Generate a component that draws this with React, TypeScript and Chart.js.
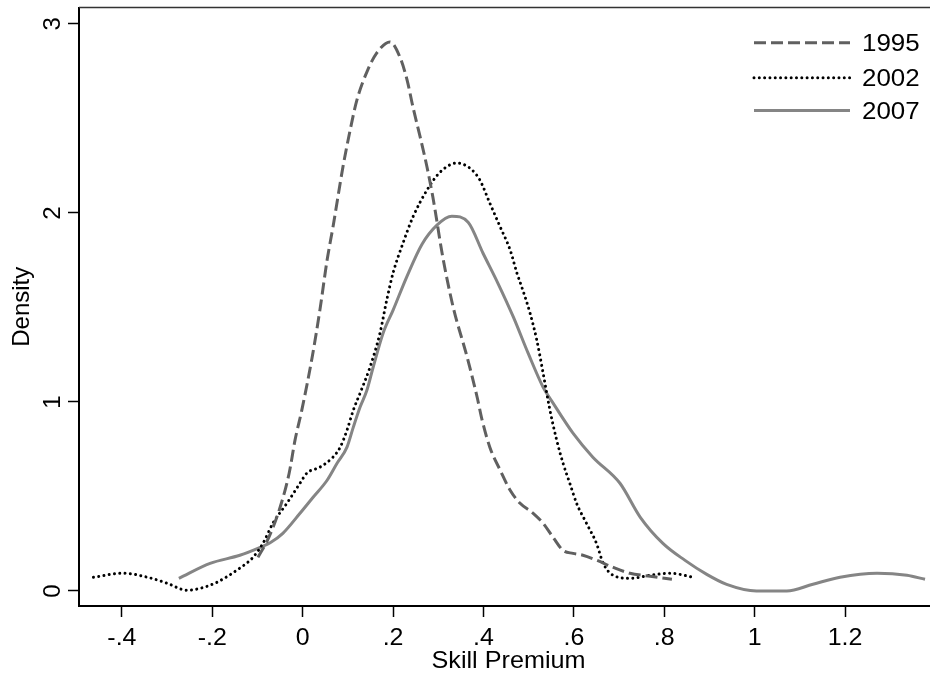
import React, { useEffect, useRef } from "react";
import { Chart, registerables } from "chart.js";

Chart.register(...registerables);

// ---- data ----
const x1995 = [-0.099, -0.075, -0.05, -0.03, -0.017, -0.002, 0.021, 0.038, 0.054, 0.067, 0.089, 0.105, 0.12, 0.144, 0.164, 0.193, 0.215, 0.231, 0.244, 0.26, 0.275, 0.288, 0.31, 0.333, 0.364, 0.386, 0.397, 0.414, 0.437, 0.459, 0.481, 0.51, 0.532, 0.554, 0.576, 0.598, 0.62, 0.651, 0.687, 0.724, 0.769, 0.817];
const y1995 = [0.178, 0.284, 0.443, 0.623, 0.798, 0.957, 1.238, 1.486, 1.751, 1.926, 2.243, 2.439, 2.598, 2.757, 2.847, 2.905, 2.825, 2.703, 2.56, 2.401, 2.243, 2.084, 1.766, 1.501, 1.236, 1.025, 0.904, 0.761, 0.639, 0.533, 0.464, 0.411, 0.358, 0.284, 0.215, 0.199, 0.189, 0.162, 0.125, 0.094, 0.078, 0.062];

const x2002 = [-0.463, -0.397, -0.344, -0.3, -0.256, -0.227, -0.19, -0.146, -0.11, -0.088, -0.066, -0.035, -0.006, 0.009, 0.038, 0.067, 0.083, 0.098, 0.112, 0.127, 0.149, 0.171, 0.186, 0.2, 0.222, 0.244, 0.275, 0.304, 0.341, 0.37, 0.392, 0.414, 0.437, 0.459, 0.474, 0.487, 0.503, 0.518, 0.532, 0.547, 0.562, 0.576, 0.591, 0.606, 0.628, 0.65, 0.665, 0.687, 0.724, 0.769, 0.813, 0.864];
const y2002 = [0.073, 0.094, 0.073, 0.041, 0.004, 0.014, 0.046, 0.11, 0.178, 0.252, 0.358, 0.464, 0.57, 0.623, 0.655, 0.708, 0.761, 0.851, 0.957, 1.047, 1.185, 1.365, 1.54, 1.683, 1.841, 1.979, 2.121, 2.216, 2.264, 2.237, 2.174, 2.052, 1.926, 1.804, 1.682, 1.592, 1.47, 1.327, 1.152, 0.957, 0.798, 0.676, 0.57, 0.464, 0.358, 0.252, 0.146, 0.083, 0.067, 0.083, 0.094, 0.073];

const x2007 = [-0.274, -0.205, -0.139, -0.094, -0.072, -0.044, -0.006, 0.023, 0.054, 0.076, 0.098, 0.112, 0.127, 0.142, 0.156, 0.178, 0.2, 0.23, 0.264, 0.297, 0.33, 0.366, 0.399, 0.432, 0.466, 0.499, 0.532, 0.554, 0.598, 0.642, 0.702, 0.747, 0.797, 0.846, 0.894, 0.938, 1.004, 1.071, 1.129, 1.189, 1.271, 1.337, 1.377];
const y2007 = [0.067, 0.146, 0.189, 0.231, 0.255, 0.305, 0.411, 0.496, 0.586, 0.676, 0.761, 0.867, 0.973, 1.062, 1.185, 1.365, 1.486, 1.661, 1.835, 1.936, 1.983, 1.951, 1.787, 1.628, 1.45, 1.257, 1.078, 0.994, 0.835, 0.708, 0.57, 0.39, 0.252, 0.162, 0.088, 0.035, 0.0, 0.0, 0.036, 0.073, 0.094, 0.083, 0.062];

const seriesNames = ["1995", "2002", "2007"];
const xTicks = [-0.4, -0.2, 0, 0.2, 0.4, 0.6, 0.8, 1, 1.2];
const xTickLabels = ["-.4", "-.2", "0", ".2", ".4", ".6", ".8", "1", "1.2"];
const yTicks = [0, 1, 2, 3];
const yTickLabels = ["0", "1", "2", "3"];
const xTitle = "Skill Premium";
const yTitle = "Density";

// ---- styles ----
const FONT = "'Liberation Sans', Arial, Helvetica, sans-serif";
const C1995 = "#606060";
const C2002 = "#000000";
const C2007 = "#858585";
const FS = 24;
const SX = 1.04;
const DASH_1995 = [12, 5];
const DOT_2002 = [0.01, 5.3];

function pts(xs: number[], ys: number[]) {
  return xs.map((x, i) => ({ x, y: ys[i] }));
}

function drawText(
  ctx: CanvasRenderingContext2D,
  text: string,
  x: number,
  y: number,
  size: number,
  sx: number,
  align: CanvasTextAlign,
  rotate: boolean
) {
  ctx.save();
  ctx.translate(x, y);
  ctx.scale(sx, 1);
  if (rotate) ctx.rotate(-Math.PI / 2);
  ctx.font = `${size}px ${FONT}`;
  ctx.fillStyle = "#000";
  ctx.textAlign = align;
  ctx.textBaseline = "alphabetic";
  ctx.fillText(text, 0, 0);
  ctx.restore();
}

const textPlugin = {
  id: "stataText",
  afterDraw(chart: any) {
    const ctx: CanvasRenderingContext2D = chart.ctx;
    const xs = chart.scales.x;
    const ys = chart.scales.y;
    const area = chart.chartArea;

    // top frame line
    ctx.save();
    ctx.strokeStyle = "#333";
    ctx.lineWidth = 1.5;
    ctx.beginPath();
    ctx.moveTo(area.left, area.top);
    ctx.lineTo(area.right, area.top);
    ctx.stroke();
    ctx.restore();

    // x tick labels
    xTicks.forEach((v, i) => {
      drawText(ctx, xTickLabels[i], xs.getPixelForValue(v), 645, FS, SX, "center", false);
    });
    // y tick labels (rotated)
    yTicks.forEach((v, i) => {
      drawText(ctx, yTickLabels[i], 60, ys.getPixelForValue(v), FS, 1, "center", true);
    });
    // axis titles
    drawText(ctx, xTitle, (area.left + area.right) / 2 + 4, 668, FS, 1.05, "center", false);
    drawText(ctx, yTitle, 29, (area.top + area.bottom) / 2, FS, 1.0, "center", true);

    // legend
    const rows = [42.7, 77.7, 110.5];
    const styles = [
      { c: C1995, dash: DASH_1995, w: 3, cap: "butt" },
      { c: C2002, dash: DOT_2002, w: 3, cap: "round" },
      { c: C2007, dash: [], w: 3, cap: "butt" },
    ];
    rows.forEach((ry, i) => {
      const s = styles[i];
      ctx.save();
      ctx.strokeStyle = s.c;
      ctx.lineWidth = s.w;
      ctx.lineCap = s.cap as CanvasLineCap;
      ctx.setLineDash(s.dash);
      ctx.beginPath();
      ctx.moveTo(754, ry);
      ctx.lineTo(850, ry);
      ctx.stroke();
      ctx.restore();
      drawText(ctx, seriesNames[i], 862, ry + 8.5, FS, 1.08, "left", false);
    });
  },
};

export default function App() {
  const ref = useRef<HTMLCanvasElement>(null);

  useEffect(() => {
    if (!ref.current) return;
    const chart = new Chart(ref.current, {
      type: "scatter",
      data: {
        datasets: [
          {
            label: seriesNames[0],
            data: pts(x1995, y1995),
            showLine: true,
            borderColor: C1995,
            borderWidth: 3,
            borderDash: DASH_1995,
            pointRadius: 0,
            cubicInterpolationMode: "monotone",
          },
          {
            label: seriesNames[1],
            data: pts(x2002, y2002),
            showLine: true,
            borderColor: C2002,
            borderWidth: 3,
            borderDash: DOT_2002,
            borderCapStyle: "round",
            pointRadius: 0,
            cubicInterpolationMode: "monotone",
          },
          {
            label: seriesNames[2],
            data: pts(x2007, y2007),
            showLine: true,
            borderColor: C2007,
            borderWidth: 3,
            pointRadius: 0,
            cubicInterpolationMode: "monotone",
          },
        ],
      } as any,
      options: {
        animation: false,
        responsive: false,
        devicePixelRatio: 1,
        layout: { padding: { top: 7.5, right: 0, left: 0, bottom: 0 } },
        plugins: {
          legend: { display: false },
          tooltip: { enabled: false },
        },
        scales: {
          x: {
            type: "linear",
            min: -0.495,
            max: 1.388,
            afterBuildTicks: (s: any) => {
              s.ticks = xTicks.map((v) => ({ value: v }));
            },
            afterFit: (s: any) => {
              s.height = 71;
            },
            ticks: { display: false },
            grid: {
              display: true,
              drawOnChartArea: false,
              drawTicks: true,
              tickLength: 11,
              tickColor: "#000",
              tickWidth: 1.5,
            },
            border: { display: true, color: "#000", width: 2 },
          },
          y: {
            type: "linear",
            min: -0.0794,
            max: 3.087,
            afterBuildTicks: (s: any) => {
              s.ticks = yTicks.map((v) => ({ value: v }));
            },
            afterFit: (s: any) => {
              s.width = 79;
            },
            ticks: { display: false },
            grid: {
              display: true,
              drawOnChartArea: false,
              drawTicks: true,
              tickLength: 11,
              tickColor: "#000",
              tickWidth: 1.5,
            },
            border: { display: true, color: "#000", width: 2 },
          },
        },
      } as any,
      plugins: [textPlugin],
    });
    return () => chart.destroy();
  }, []);

  return (
    <div style={{ position: "absolute", left: 0, top: 0, width: 930, height: 677, background: "#fff" }}>
      <canvas ref={ref} width={930} height={677} style={{ display: "block", width: 930, height: 677 }} />
    </div>
  );
}
